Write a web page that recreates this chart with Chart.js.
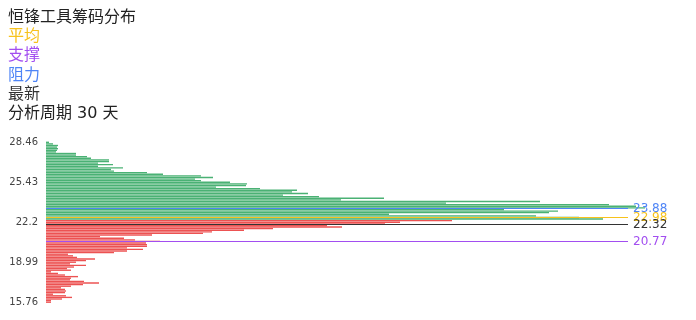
<!DOCTYPE html>
<html>
<head>
<meta charset="utf-8">
<script src="https://cdn.jsdelivr.net/npm/chart.js@4"></script>
<style>
    body { margin: 0; background: #fff; }
    #wrap { position: relative; width: 696px; height: 320px; }
    #legend {
        position: absolute; left: 8px; top: 7px;
        font: 16px 'DejaVu Sans', 'Noto Sans CJK SC', sans-serif;
        line-height: 19.2px; color: #222;
    }
</style>
</head>
<body>
<div id="wrap">
    <canvas id="chips" width="696" height="320"></canvas>
    <div id="legend">
        <div>恒锋工具筹码分布</div>
        <div style="color:#f7c21c">平均</div>
        <div style="color:#a24ef0">支撑</div>
        <div style="color:#4f85f6">阻力</div>
        <div style="color:#333">最新</div>
        <div>分析周期 30 天</div>
    </div>
</div>
<script>
// chip volume per price row, top (high price) to bottom
const upperVolumes = [3, 7, 12, 11, 12, 11, 10, 30, 30, 41, 45, 63, 63, 52, 67, 52, 77, 65, 68, 101,
    117, 155, 167, 149, 155, 184, 201, 200, 170, 214, 251, 246, 262, 237, 273, 338, 295, 494, 400, 563,
    590, 599, 458, 512, 503, 343, 490, 533, 557];
const lowerVolumes = [406, 354, 339, 281, 296, 227, 198, 166, 157, 106, 54, 78, 89, 114, 100, 101, 101, 81, 97, 81,
    68, 22, 27, 31, 49, 40, 30, 24, 40, 28, 21, 25, 5, 12, 19, 32, 25, 24, 38, 53,
    37, 25, 15, 19, 20, 19, 7, 20, 26, 16, 5, 5];

const tickIndex = [0, 25, 50, 75, 100];
const tickText = ['28.46', '25.43', '22.2', '18.99', '15.76'];

const levelNames = ['阻力', '平均', '最新', '支撑'];
const levelPrices = [23.88, 22.98, 22.32, 20.77];
const levelColors = ['#4f85f6', '#f7c21c', '#333333', '#a24ef0'];

const volumes = upperVolumes.concat(lowerVolumes);
const rowLabels = volumes.map((v, i) => {
    const k = tickIndex.indexOf(i);
    return k >= 0 ? tickText[k] : '';
});

const levelLines = {
    id: 'levelLines',
    afterDatasetsDraw (chart) {
        const ctx = chart.ctx;
        const area = chart.chartArea;
        const y2 = chart.scales.y2;
        ctx.save();
        ctx.font = '12px "DejaVu Sans", sans-serif';
        ctx.textBaseline = 'middle';
        ctx.textAlign = 'left';
        levelPrices.forEach((p, i) => {
            const y = Math.round(y2.getPixelForValue(p)) + 0.5;
            ctx.strokeStyle = levelColors[i];
            ctx.lineWidth = 1;
            ctx.beginPath();
            ctx.moveTo(area.left, y);
            ctx.lineTo(area.right, y);
            ctx.stroke();
            ctx.fillStyle = levelColors[i];
            ctx.fillText(p.toFixed(2), area.right + 5, y);
        });
        ctx.restore();
    }
};

new Chart(document.getElementById('chips').getContext('2d'), {
    type: 'bar',
    data: {
        labels: rowLabels,
        datasets: [{
            data: volumes,
            backgroundColor: volumes.map((v, i) => i < upperVolumes.length
                ? 'rgba(34,160,86,0.82)' : 'rgba(232,44,44,0.82)'),
            borderWidth: 0,
            barPercentage: 0.85,
            categoryPercentage: 1,
            clip: false
        }]
    },
    options: {
        indexAxis: 'y',
        responsive: false,
        animation: false,
        layout: { padding: { top: 141.5, bottom: 17, left: 0, right: 68 } },
        plugins: { legend: { display: false }, tooltip: { enabled: false } },
        scales: {
            x: { display: false, min: 0, max: 582 },
            y: {
                grid: { display: false, drawTicks: false },
                border: { display: false },
                afterFit (scale) { scale.width = 46; },
                ticks: {
                    autoSkip: false,
                    padding: 8,
                    color: '#444',
                    font: { family: 'DejaVu Sans', size: 10 },
                    callback (value, index) { return rowLabels[index]; }
                }
            },
            y2: { type: 'linear', display: false, min: 15.79, max: 29.255 }
        }
    },
    plugins: [levelLines]
});
</script>
</body>
</html>
